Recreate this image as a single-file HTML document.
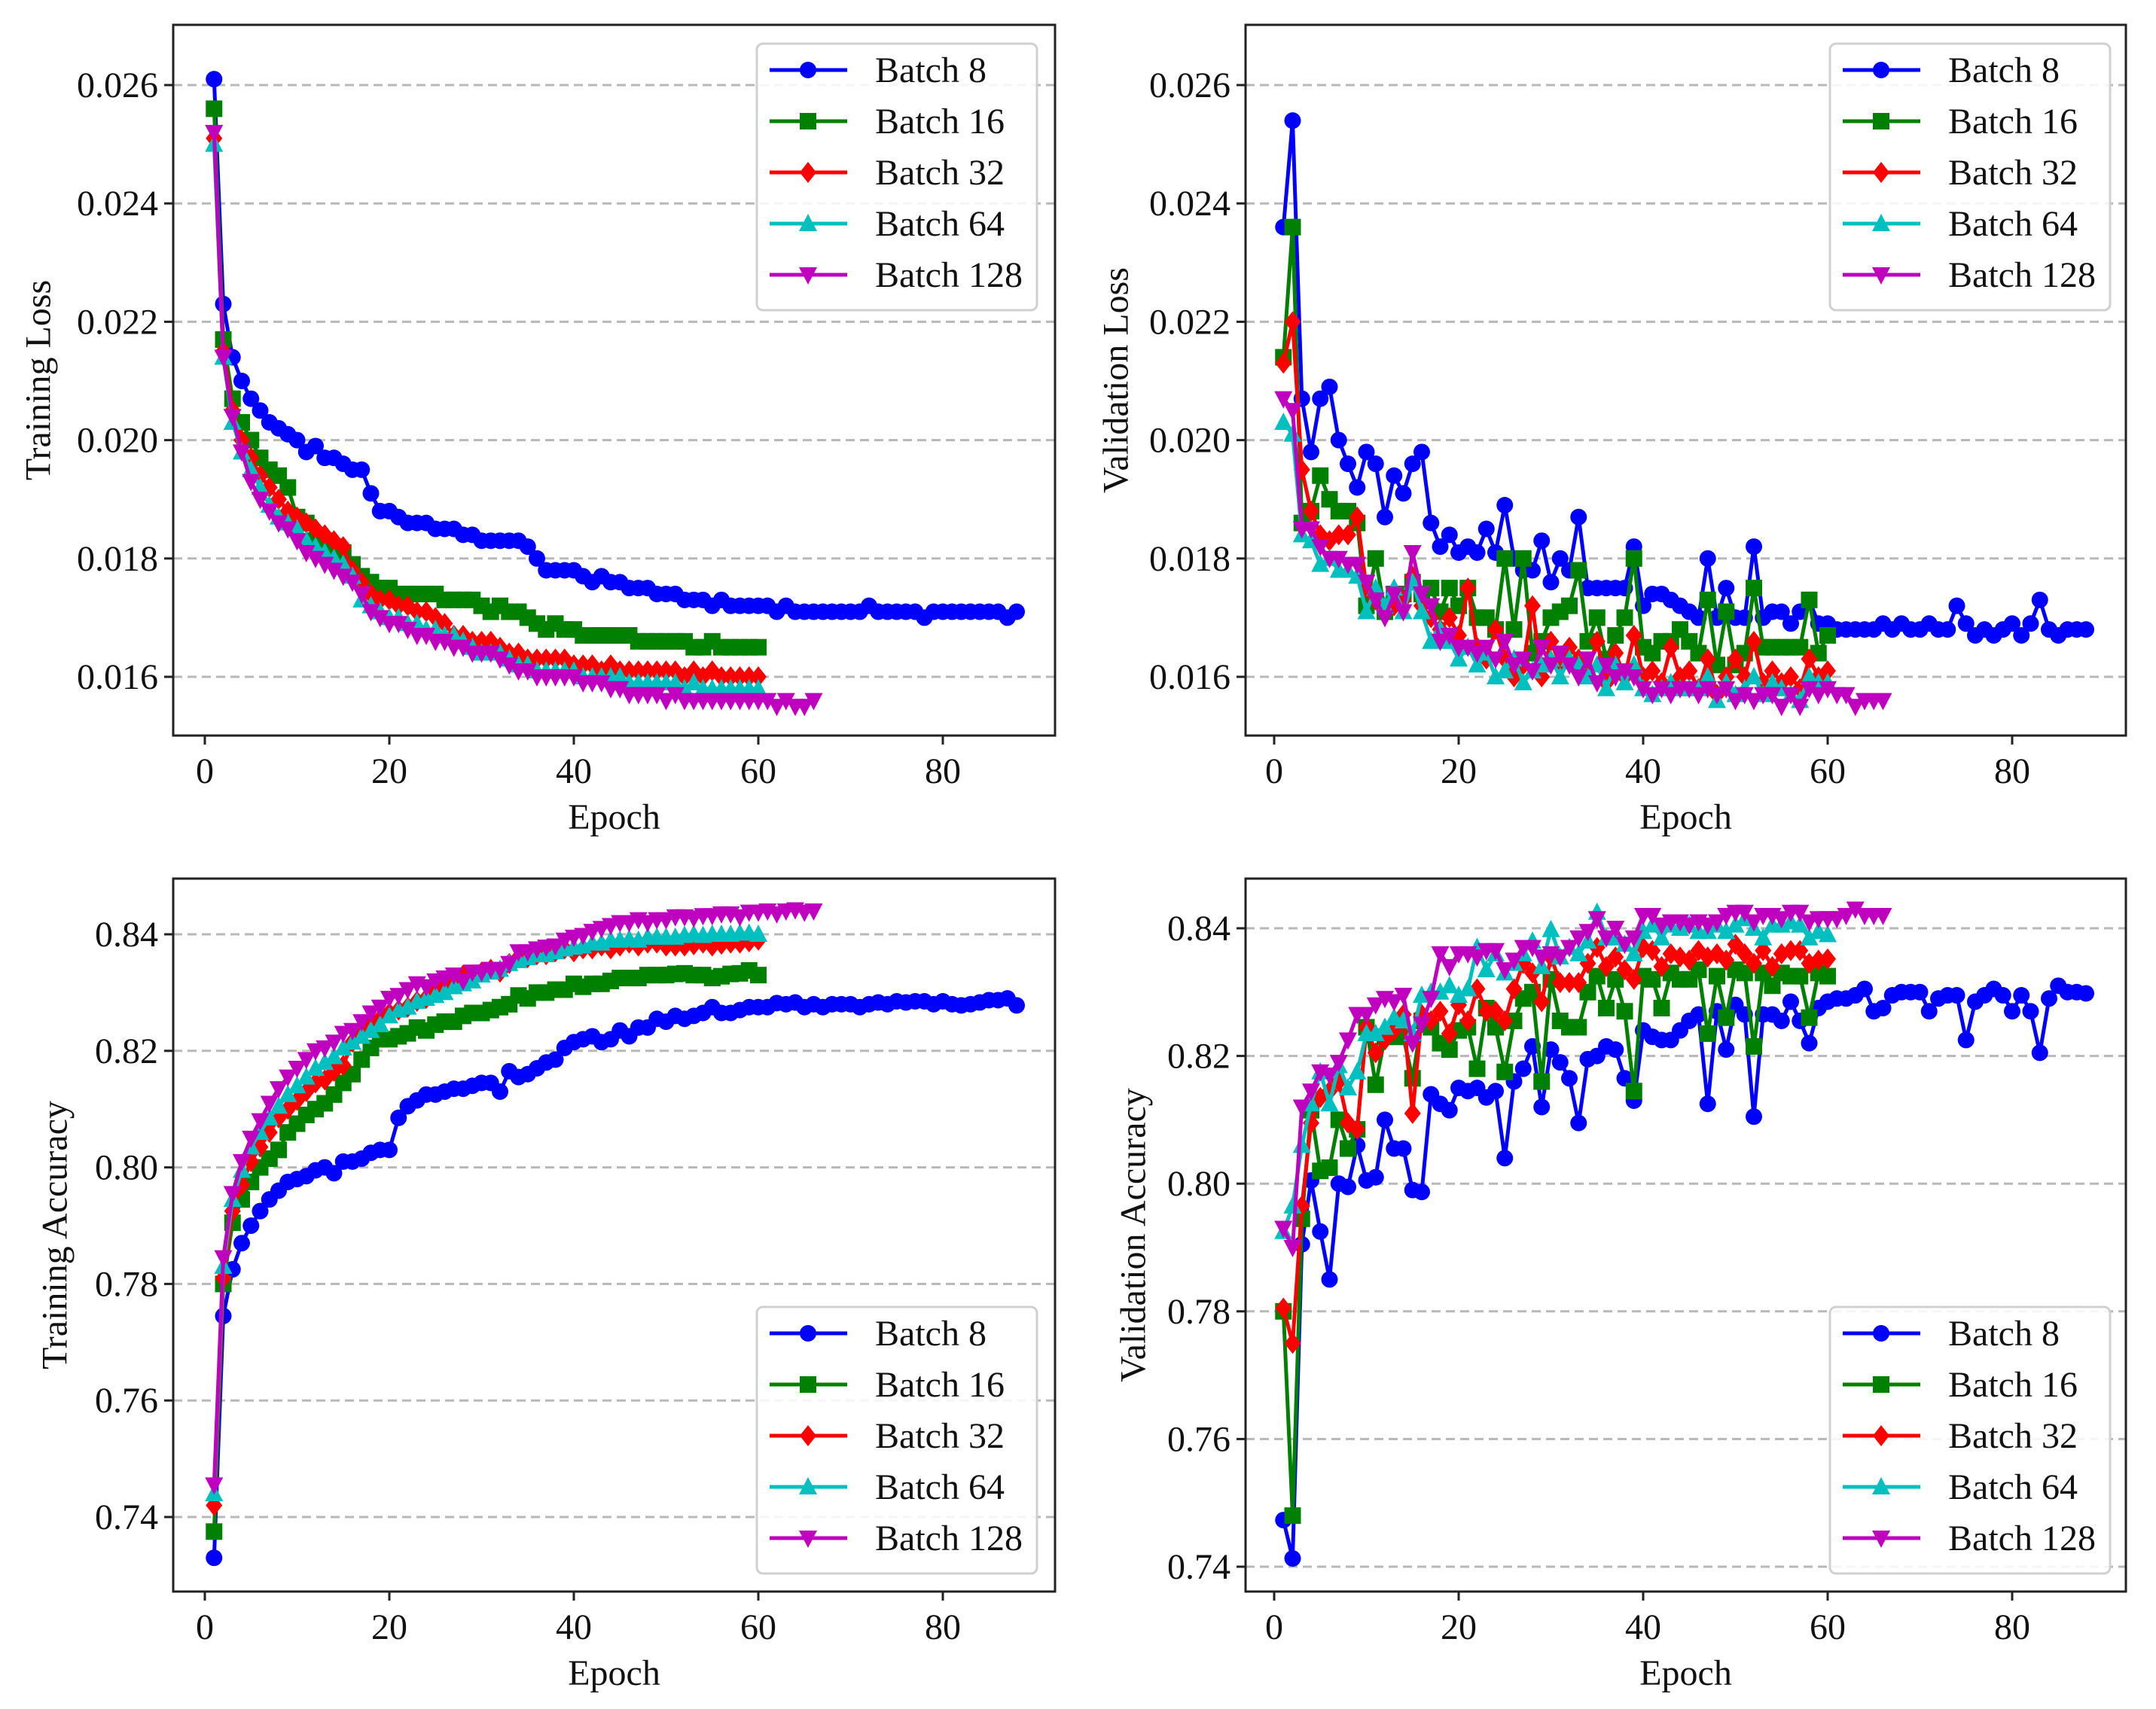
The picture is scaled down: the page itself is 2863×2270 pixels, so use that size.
<!DOCTYPE html>
<html><head><meta charset="utf-8"><title>Batch size comparison</title>
<style>
html,body{margin:0;padding:0;background:#fff;}
svg{display:block;font-family:"Liberation Serif","DejaVu Serif",serif;}
</style></head>
<body>
<svg id="fig" width="2863" height="2270" viewBox="0 0 2863 2270" xmlns="http://www.w3.org/2000/svg"></svg>
<script>
// ---------- data ----------
const seriesNames = ["Batch 8","Batch 16","Batch 32","Batch 64","Batch 128"];
const xTickLabels = [0,20,40,60,80];
const lossTickLabels = [0.016,0.018,0.020,0.022,0.024,0.026];
const accTickLabels = [0.74,0.76,0.78,0.80,0.82,0.84];

const trainLossB8 = [.0261,.0223,.0214,.0210,.0207,.0205,.0203,.0202,.0201,.0200,.0198,.0199,.0197,.0197,.0196,.0195,.0195,.0191,.0188,.0188,.0187,.0186,.0186,.0186,.0185,.0185,.0185,.0184,.0184,.0183,.0183,.0183,.0183,.0183,.0182,.0180,.0178,.0178,.0178,.0178,.0177,.0176,.0177,.0176,.0176,.0175,.0175,.0175,.0174,.0174,.0174,.0173,.0173,.0173,.0172,.0173,.0172,.0172,.0172,.0172,.0172,.0171,.0172,.0171,.0171,.0171,.0171,.0171,.0171,.0171,.0171,.0172,.0171,.0171,.0171,.0171,.0171,.0170,.0171,.0171,.0171,.0171,.0171,.0171,.0171,.0171,.0170,.0171];
const trainLossB16 = [.0256,.0217,.0207,.0203,.0200,.0197,.0195,.0194,.0192,.0187,.0186,.0183,.0183,.0182,.0181,.0179,.0177,.0176,.0175,.0175,.0174,.0174,.0174,.0174,.0174,.0173,.0173,.0173,.0173,.0172,.0171,.0172,.0171,.0171,.0170,.0169,.0168,.0169,.0168,.0168,.0167,.0167,.0167,.0167,.0167,.0167,.0166,.0166,.0166,.0166,.0166,.0166,.0165,.0165,.0166,.0165,.0165,.0165,.0165,.0165];
const trainLossB32 = [.0251,.0215,.0205,.0200,.0197,.0194,.0192,.0190,.0188,.0187,.0186,.0185,.0184,.0183,.0182,.0178,.0176,.0174,.0173,.0173,.0172,.0172,.0171,.0171,.0170,.0169,.0167,.0167,.0166,.0166,.0166,.0165,.0164,.0164,.0163,.0163,.0163,.0163,.0163,.0162,.0162,.0162,.0161,.0162,.0161,.0161,.0161,.0161,.0161,.0161,.0161,.0160,.0161,.0160,.0161,.0160,.0160,.0160,.0160,.0160];
const trainLossB64 = [.0250,.0214,.0203,.0198,.0195,.0192,.0189,.0187,.0186,.0185,.0183,.0182,.0181,.0180,.0179,.0177,.0173,.0172,.0171,.0170,.0170,.0169,.0169,.0168,.0168,.0167,.0167,.0166,.0165,.0164,.0164,.0164,.0163,.0162,.0162,.0161,.0161,.0161,.0161,.0161,.0160,.0160,.0160,.0160,.0160,.0159,.0159,.0159,.0159,.0159,.0159,.0158,.0159,.0158,.0158,.0158,.0158,.0158,.0158,.0158];
const trainLossB128 = [.0252,.0214,.0204,.0198,.0193,.0190,.0188,.0186,.0185,.0183,.0181,.0180,.0179,.0178,.0177,.0176,.0174,.0171,.0170,.0169,.0169,.0168,.0167,.0167,.0166,.0166,.0165,.0165,.0164,.0164,.0164,.0163,.0162,.0161,.0161,.0160,.0160,.0160,.0160,.0160,.0159,.0159,.0159,.0158,.0158,.0157,.0157,.0157,.0157,.0156,.0157,.0156,.0156,.0156,.0156,.0156,.0156,.0156,.0156,.0156,.0156,.0155,.0156,.0155,.0155,.0156];

const valLossB8 = [.0236,.0254,.0207,.0198,.0207,.0209,.0200,.0196,.0192,.0198,.0196,.0187,.0194,.0191,.0196,.0198,.0186,.0182,.0184,.0181,.0182,.0181,.0185,.0181,.0189,.0180,.0178,.0178,.0183,.0176,.0180,.0178,.0187,.0175,.0175,.0175,.0175,.0175,.0182,.0172,.0174,.0174,.0173,.0172,.0171,.0170,.0180,.0170,.0175,.0170,.0170,.0182,.0170,.0171,.0171,.0169,.0171,.0173,.0169,.0169,.0168,.0168,.0168,.0168,.0168,.0169,.0168,.0169,.0168,.0168,.0169,.0168,.0168,.0172,.0169,.0167,.0168,.0167,.0168,.0169,.0167,.0169,.0173,.0168,.0167,.0168,.0168,.0168];
const valLossB16 = [.0214,.0236,.0186,.0188,.0194,.0190,.0188,.0188,.0186,.0172,.0180,.0171,.0174,.0174,.0176,.0174,.0175,.0171,.0175,.0172,.0175,.0170,.0170,.0168,.0180,.0168,.0180,.0164,.0166,.0170,.0171,.0172,.0178,.0166,.0170,.0163,.0167,.0170,.0180,.0165,.0164,.0166,.0166,.0168,.0166,.0164,.0173,.0162,.0171,.0162,.0164,.0175,.0165,.0165,.0165,.0165,.0165,.0173,.0164,.0167];
const valLossB32 = [.0213,.0220,.0195,.0188,.0184,.0183,.0184,.0184,.0187,.0175,.0173,.0171,.0172,.0173,.0177,.0172,.0170,.0168,.0170,.0167,.0175,.0165,.0163,.0168,.0163,.0160,.0162,.0172,.0160,.0166,.0162,.0165,.0163,.0161,.0166,.0159,.0164,.0160,.0167,.0160,.0161,.0159,.0165,.0160,.0161,.0158,.0163,.0157,.0160,.0163,.0160,.0166,.0159,.0161,.0159,.0160,.0158,.0163,.0160,.0161];
const valLossB64 = [.0203,.0201,.0184,.0183,.0179,.0180,.0178,.0178,.0177,.0171,.0175,.0172,.0175,.0171,.0176,.0171,.0166,.0168,.0166,.0163,.0165,.0162,.0164,.0160,.0161,.0163,.0159,.0161,.0162,.0163,.0160,.0163,.0162,.0160,.0162,.0158,.0162,.0159,.0162,.0158,.0157,.0158,.0159,.0158,.0158,.0158,.0160,.0156,.0159,.0157,.0158,.0160,.0157,.0159,.0158,.0157,.0156,.0160,.0159,.0159];
const valLossB128 = [.0207,.0205,.0185,.0185,.0182,.0180,.0180,.0179,.0179,.0176,.0173,.0170,.0174,.0171,.0181,.0174,.0172,.0166,.0167,.0165,.0165,.0164,.0165,.0163,.0166,.0162,.0163,.0161,.0165,.0162,.0164,.0162,.0160,.0163,.0159,.0162,.0160,.0161,.0160,.0158,.0157,.0158,.0157,.0158,.0158,.0157,.0158,.0157,.0158,.0156,.0157,.0156,.0157,.0157,.0155,.0157,.0155,.0158,.0157,.0158,.0157,.0157,.0155,.0156,.0156,.0156];

const trainAccB8 = [.733,.7745,.7825,.787,.790,.7925,.7945,.796,.7975,.798,.7985,.7995,.800,.799,.801,.801,.8015,.8025,.803,.803,.8085,.8105,.8115,.8125,.8125,.813,.8135,.8135,.814,.8145,.8145,.813,.8165,.8155,.816,.817,.818,.8185,.8205,.8215,.822,.8225,.8215,.822,.8235,.8225,.824,.824,.8255,.825,.826,.8255,.826,.8265,.8275,.8265,.8265,.827,.8275,.8275,.8275,.8282,.828,.8283,.8275,.828,.8275,.828,.828,.828,.8275,.828,.8283,.828,.8285,.8283,.8285,.8285,.828,.8285,.828,.8278,.828,.8283,.8287,.8287,.829,.8278];
const trainAccB16 = [.7375,.780,.7905,.7945,.7975,.800,.8015,.803,.806,.8075,.809,.810,.811,.8125,.8145,.816,.8185,.8205,.822,.822,.8225,.823,.824,.8235,.8245,.825,.825,.826,.8265,.8265,.827,.8275,.828,.8295,.829,.830,.830,.8305,.8305,.8315,.831,.8315,.8315,.832,.8325,.8325,.8325,.833,.833,.833,.8332,.8333,.833,.833,.8325,.8328,.8332,.8333,.8338,.833];
const trainAccB32 = [.742,.781,.7925,.797,.801,.8035,.806,.8085,.810,.8115,.813,.8145,.815,.8165,.8175,.8215,.823,.8245,.8255,.8265,.827,.8275,.8285,.829,.8305,.8315,.832,.833,.8325,.8335,.834,.8335,.835,.836,.836,.8365,.8365,.837,.8375,.837,.8375,.8375,.838,.8375,.838,.8385,.838,.8385,.8385,.838,.838,.838,.8382,.8385,.838,.8383,.8385,.8385,.8387,.839];
const trainAccB64 = [.744,.783,.7945,.7995,.8035,.806,.8085,.8105,.8125,.814,.8155,.817,.818,.819,.8205,.8215,.8225,.8235,.8245,.826,.827,.8275,.8285,.829,.8295,.830,.831,.8315,.832,.833,.8335,.834,.835,.8355,.836,.8365,.8365,.837,.8375,.8378,.838,.8385,.8385,.839,.839,.8392,.839,.8395,.8395,.8395,.8395,.8398,.840,.8398,.840,.840,.840,.8402,.8402,.840];
const trainAccB128 = [.7455,.7845,.7955,.801,.805,.808,.811,.8135,.8155,.817,.8185,.820,.8205,.8215,.823,.8235,.825,.8265,.8275,.829,.8295,.8305,.8315,.831,.832,.8325,.833,.832,.8335,.8335,.834,.834,.835,.837,.837,.8375,.8378,.838,.839,.8395,.8398,.8405,.841,.8415,.842,.842,.8425,.842,.8425,.8425,.843,.843,.8428,.8432,.8432,.8435,.8435,.843,.8438,.8438,.844,.8435,.844,.8442,.8438,.844];

const valAccB8 = [.7473,.7413,.7905,.8005,.7925,.785,.800,.7995,.806,.8005,.801,.810,.8055,.8055,.799,.7987,.814,.8125,.8115,.815,.8145,.815,.8135,.8145,.804,.816,.818,.8215,.812,.821,.819,.8165,.8095,.8195,.820,.8215,.821,.8165,.813,.824,.823,.8225,.8225,.824,.8255,.8265,.8125,.827,.821,.828,.8265,.8105,.8265,.8265,.8255,.8285,.8255,.822,.8275,.8285,.829,.829,.8295,.8305,.827,.8275,.8295,.830,.830,.830,.827,.829,.8295,.8295,.8225,.8285,.8295,.8305,.8295,.827,.8295,.827,.8205,.829,.831,.830,.830,.8298];
const valAccB16 = [.780,.748,.7945,.8115,.802,.8025,.810,.8055,.8085,.8245,.8155,.823,.823,.823,.8165,.8255,.8245,.822,.821,.824,.8245,.818,.8275,.8245,.8175,.8255,.829,.830,.816,.832,.8255,.8245,.8245,.830,.8325,.8275,.832,.827,.8145,.8325,.832,.8275,.833,.832,.832,.8335,.8235,.8325,.826,.8335,.833,.8215,.833,.831,.833,.8325,.8325,.826,.833,.8325];
const valAccB32 = [.7805,.775,.7965,.8095,.8135,.8145,.816,.8095,.8085,.8245,.8205,.8225,.824,.8265,.811,.8265,.8255,.827,.8235,.828,.8255,.8305,.827,.827,.8255,.8305,.8345,.833,.8285,.8355,.8315,.8315,.8315,.8345,.837,.834,.8355,.8335,.832,.837,.8365,.834,.836,.8355,.835,.8365,.8355,.836,.835,.8375,.836,.8345,.8365,.834,.836,.8365,.8365,.8345,.835,.8352];
const valAccB64 = [.7925,.7965,.806,.8125,.8175,.8125,.8185,.815,.8175,.8235,.8235,.8245,.826,.8255,.8235,.8295,.830,.830,.831,.8295,.8305,.837,.8335,.836,.833,.8345,.836,.838,.834,.8398,.8355,.837,.836,.838,.8425,.8385,.8385,.8375,.836,.8395,.8405,.8385,.8405,.840,.8405,.8395,.8395,.8405,.8395,.8405,.8415,.840,.8385,.8405,.8405,.841,.8405,.8385,.8395,.839];
const valAccB128 = [.793,.790,.812,.8145,.8175,.817,.819,.8225,.8265,.8265,.828,.829,.8285,.8295,.822,.825,.829,.836,.834,.836,.836,.8355,.8365,.8365,.8335,.835,.837,.837,.8355,.836,.8355,.837,.8385,.8395,.8415,.8385,.840,.8375,.8385,.842,.842,.8405,.841,.841,.8405,.841,.8405,.841,.842,.8425,.8425,.841,.842,.842,.8415,.8425,.8425,.841,.8415,.8415,.8415,.842,.843,.842,.842,.842];

// ---------- rendering ----------
const NS = "http://www.w3.org/2000/svg";
const svg = document.getElementById("fig");
const colors = ["#0000ff","#008000","#ff0000","#00bfbf","#bf00bf"];
const markers = ["circle","square","diamond","triup","tridown"];

function mk(tag, attrs, parent){
  const e = document.createElementNS(NS, tag);
  for (const k in attrs) e.setAttribute(k, attrs[k]);
  (parent||svg).appendChild(e);
  return e;
}
function drawMarker(g, type, x, y, color){
  let m;
  if (type==="circle") m = mk("circle",{cx:x,cy:y,r:11,fill:color},g);
  else if (type==="square") m = mk("rect",{x:x-11,y:y-11,width:22,height:22,fill:color},g);
  else if (type==="diamond") m = mk("polygon",{points:`${x},${y-14} ${x+11},${y} ${x},${y+14} ${x-11},${y}`,fill:color},g);
  else if (type==="triup") m = mk("polygon",{points:`${x},${y-13} ${x+12},${y+10} ${x-12},${y+10}`,fill:color},g);
  else m = mk("polygon",{points:`${x},${y+13} ${x+12},${y-10} ${x-12},${y-10}`,fill:color},g);
  return m;
}

const panels = [
  {key:"train-loss", L:230,R:1401,T:33,B:977, x0:272, y0v:0.016,y0p:899, y1v:0.026,y1p:113,
   ticks:lossTickLabels, fmt:v=>v.toFixed(3), ylabel:"Training Loss", ylx:51,
   data:[trainLossB8,trainLossB16,trainLossB32,trainLossB64,trainLossB128], legend:{x:1005,y:58}},
  {key:"val-loss", L:1654,R:2823,T:33,B:977, x0:1692, y0v:0.016,y0p:899, y1v:0.026,y1p:113,
   ticks:lossTickLabels, fmt:v=>v.toFixed(3), ylabel:"Validation Loss", ylx:1482,
   data:[valLossB8,valLossB16,valLossB32,valLossB64,valLossB128], legend:{x:2430,y:58}},
  {key:"train-acc", L:230,R:1401,T:1167,B:2114, x0:272, y0v:0.74,y0p:2015, y1v:0.84,y1p:1241,
   ticks:accTickLabels, fmt:v=>v.toFixed(2), ylabel:"Training Accuracy", ylx:73,
   data:[trainAccB8,trainAccB16,trainAccB32,trainAccB64,trainAccB128], legend:{x:1005,y:1736}},
  {key:"val-acc", L:1654,R:2823,T:1167,B:2114, x0:1692, y0v:0.74,y0p:2081, y1v:0.84,y1p:1233,
   ticks:accTickLabels, fmt:v=>v.toFixed(2), ylabel:"Validation Accuracy", ylx:1505,
   data:[valAccB8,valAccB16,valAccB32,valAccB64,valAccB128], legend:{x:2430,y:1736}}
];
const pxPerEpoch = 12.25;

panels.forEach(p=>{
  const g = mk("g",{});
  
  
  const xs = e => p.x0 + e*pxPerEpoch;
  const ys = v => p.y0p + (v-p.y0v)*(p.y1p-p.y0p)/(p.y1v-p.y0v);

  p.ticks.forEach(t=>{
    const y = ys(t);
    const gl = mk("line",{x1:p.L,x2:p.R,y1:y,y2:y,stroke:"#b8b8b8","stroke-width":3,"stroke-dasharray":"12,7"},g);
    
    
    mk("line",{x1:p.L-12,x2:p.L,y1:y,y2:y,stroke:"#222","stroke-width":3},g);
    const tl = mk("text",{x:p.L-20,y:y+16,"text-anchor":"end","font-size":48,fill:"#111"},g);
    tl.textContent = p.fmt(t);
    
    
  });
  xTickLabels.forEach(t=>{
    const x = xs(t);
    mk("line",{x1:x,x2:x,y1:p.B,y2:p.B+12,stroke:"#222","stroke-width":3},g);
    const tl = mk("text",{x:x,y:p.B+63,"text-anchor":"middle","font-size":48,fill:"#111"},g);
    tl.textContent = t;
    
    
  });
  const xl = mk("text",{x:(p.L+p.R)/2,y:p.B+124,"text-anchor":"middle","font-size":48,fill:"#111"},g);
  xl.textContent = "Epoch";
  
  
  const cy = (p.T+p.B)/2;
  const yl = mk("text",{x:p.ylx,y:cy,"text-anchor":"middle","font-size":48,fill:"#111",transform:`rotate(-90 ${p.ylx} ${cy})`,"dominant-baseline":"central"},g);
  yl.textContent = p.ylabel;
  
  

  p.data.forEach((arr,si)=>{
    const sg = mk("g",{},g);
    
    
    const pts = arr.map((v,i)=>`${xs(i+1).toFixed(1)},${ys(v).toFixed(1)}`).join(" ");
    const ln = mk("polyline",{points:pts,fill:"none",stroke:colors[si],"stroke-width":5,"stroke-linejoin":"round"},sg);
    
    
    arr.forEach((v,i)=>{
      const m = drawMarker(sg, markers[si], xs(i+1), ys(v), colors[si]);
      
      
    });
  });

  const fr = mk("rect",{x:p.L,y:p.T,width:p.R-p.L,height:p.B-p.T,fill:"none",stroke:"#222","stroke-width":3},g);
  
  

  const lg = mk("g",{},g);
  
  
  mk("rect",{x:p.legend.x,y:p.legend.y,width:372,height:354,rx:8,fill:"#fff","fill-opacity":0.85,stroke:"#d0d0d0","stroke-width":3},lg);
  seriesNames.forEach((n,si)=>{
    const ry = p.legend.y + 35 + si*68;
    const eg = mk("g",{},lg);
    
    
    mk("line",{x1:p.legend.x+17,x2:p.legend.x+120,y1:ry,y2:ry,stroke:colors[si],"stroke-width":5},eg);
    drawMarker(eg, markers[si], p.legend.x+68, ry, colors[si]);
    const t = mk("text",{x:p.legend.x+157,y:ry+16,"font-size":48,fill:"#111"},eg);
    t.textContent = n;
  });
});
</script>
</body></html>
